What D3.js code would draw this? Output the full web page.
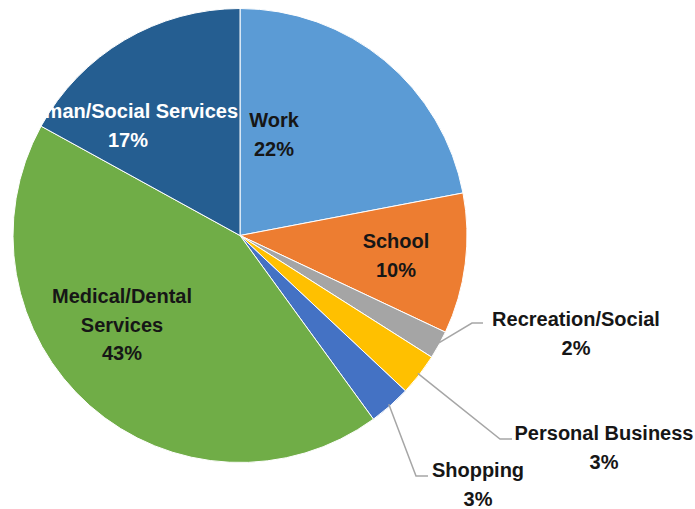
<!DOCTYPE html>
<html>
<head>
<meta charset="utf-8">
<script src="https://cdn.jsdelivr.net/npm/d3@7/dist/d3.min.js"></script>
<style>
  html, body { margin: 0; padding: 0; background: #ffffff; }
  svg { display: block; }
  text { font-family: "Liberation Sans", Arial, sans-serif; font-weight: bold; }
</style>
</head>
<body>
<svg id="chart" width="695" height="509"></svg>
<script>
// Trip purposes (share of trips, %)
const categories = ["Work", "School", "Recreation/Social", "Personal Business", "Shopping", "Medical/Dental Services", "Human/Social Services"];
const shares = [22, 10, 2, 3, 3, 43, 17];
const colors = ["#5b9bd5", "#ed7d31", "#a5a5a5", "#ffc000", "#4472c4", "#70ad47", "#255e91"];

// Label lines as shown on the chart
const labelLines = [["Work"], ["School"], ["Recreation/Social"], ["Personal Business"], ["Shopping"], ["Medical/Dental", "Services"], ["Human/Social Services"]];

// Label layout: centre x, first baseline y, text colour, leader elbow (outside labels only)
const labelLayout = [
  { x: 274, y: 127, fill: "#161616" },
  { x: 396, y: 248, fill: "#161616" },
  { x: 576, y: 326, fill: "#161616", elbow: [472, 323], end: [483, 323] },
  { x: 604, y: 440, fill: "#161616", elbow: [500, 439], end: [512, 439] },
  { x: 478, y: 477, fill: "#161616", elbow: [416, 476], end: [428, 476] },
  { x: 122, y: 303, fill: "#161616" },
  { x: 128, y: 118, fill: "#ffffff" }
];

const data = categories.map((c, i) => ({ name: c, value: shares[i], color: colors[i], lines: labelLines[i], layout: labelLayout[i] }));

const svg = d3.select("#chart");
const cx = 240, cy = 235.5, r = 227;
const g = svg.append("g").attr("transform", `translate(${cx},${cy})`);

const pie = d3.pie().value(d => d.value).sort(null).startAngle(0).endAngle(2 * Math.PI);
const arc = d3.arc().innerRadius(0).outerRadius(r);
const arcs = pie(data);

g.selectAll("path.slice")
  .data(arcs)
  .join("path")
  .attr("class", "slice")
  .attr("d", arc)
  .attr("fill", d => d.data.color)
  .attr("stroke", "#ffffff")
  .attr("stroke-width", 1);

// Leader lines for the small slices, starting just inside the slice edge
svg.selectAll("polyline.leader")
  .data(arcs.filter(d => d.data.layout.elbow))
  .join("polyline")
  .attr("class", "leader")
  .attr("fill", "none")
  .attr("stroke", "#a6a6a6")
  .attr("stroke-width", 1.5)
  .attr("points", d => {
    const mid = (d.startAngle + d.endAngle) / 2;
    const p = [cx + (r - 2) * Math.sin(mid), cy - (r - 2) * Math.cos(mid)];
    return [p, d.data.layout.elbow, d.data.layout.end].map(q => q.join(",")).join(" ");
  });

// Labels: category lines followed by the percentage
const lineH = 28.5;
const labels = svg.selectAll("text.label")
  .data(arcs)
  .join("text")
  .attr("class", "label")
  .attr("text-anchor", "middle")
  .attr("font-size", "20px")
  .attr("fill", d => d.data.layout.fill);

labels.each(function (d) {
  const t = d3.select(this);
  const lines = d.data.lines.concat([d.data.value + "%"]);
  lines.forEach((s, i) => {
    t.append("tspan")
      .attr("x", d.data.layout.x)
      .attr("y", d.data.layout.y + i * lineH)
      .text(s);
  });
});
</script>
</body>
</html>
